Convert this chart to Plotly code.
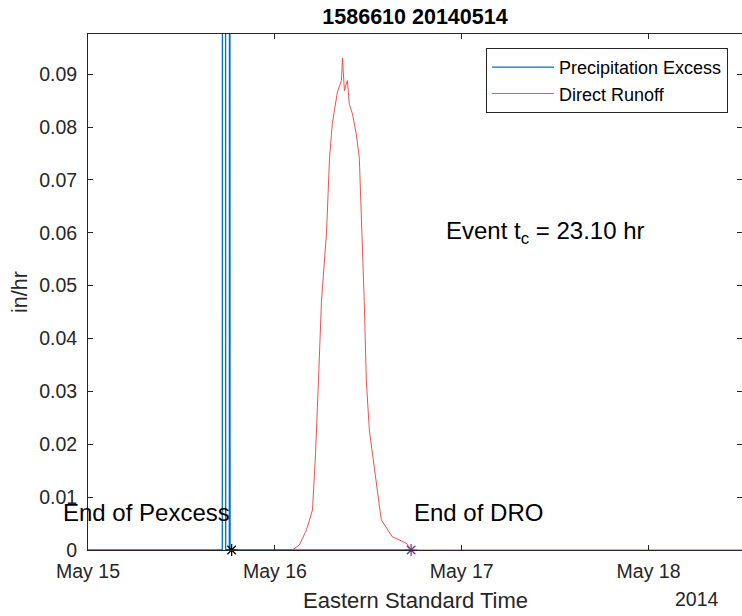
import plotly.graph_objects as go

# ---------------- data ----------------
title_text = "1586610 20140514"

precip_time = ["2014-05-15 00:00", "2014-05-15 17:15", "2014-05-15 17:18", "2014-05-15 17:38",
               "2014-05-15 17:41", "2014-05-15 18:09", "2014-05-15 18:12", "2014-05-15 18:15",
               "2014-05-15 18:27", "2014-05-16 17:30"]
precip_val = [0, 0, 0.40, 0.40, 0, 0, 0.30, 0, 0, 0]

runoff_time = ["2014-05-15 18:27", "2014-05-16 02:16", "2014-05-16 03:10", "2014-05-16 04:04",
               "2014-05-16 04:50", "2014-05-16 05:13", "2014-05-16 05:36", "2014-05-16 05:59",
               "2014-05-16 06:38", "2014-05-16 07:01", "2014-05-16 07:23", "2014-05-16 07:39",
               "2014-05-16 08:02", "2014-05-16 08:33", "2014-05-16 08:41", "2014-05-16 08:56",
               "2014-05-16 09:19", "2014-05-16 09:34", "2014-05-16 09:58", "2014-05-16 10:28",
               "2014-05-16 10:51", "2014-05-16 11:29", "2014-05-16 11:45", "2014-05-16 12:08",
               "2014-05-16 13:02", "2014-05-16 13:40", "2014-05-16 15:05", "2014-05-16 16:53",
               "2014-05-16 17:30", "2014-05-18 12:00"]
runoff_val = [0, 0, 0.001, 0.0038, 0.0076, 0.018, 0.032, 0.047, 0.060, 0.0740, 0.0807, 0.083,
              0.0866, 0.0888, 0.0930, 0.0869, 0.0888, 0.0843, 0.0825, 0.0786, 0.0741, 0.047,
              0.032, 0.0227, 0.0132, 0.0057, 0.0025, 0.0013, 0, 0]

pexcess_end_time = "2014-05-15 18:27"
dro_end_time = "2014-05-16 17:30"
event_tc = 23.10

x_range = ["2014-05-15 00:00", "2014-05-18 12:00"]
x_ticks = ["2014-05-15", "2014-05-16", "2014-05-17", "2014-05-18"]
x_ticktext = ["May 15", "May 16", "May 17", "May 18"]
y_ticks = [0, 0.01, 0.02, 0.03, 0.04, 0.05, 0.06, 0.07, 0.08, 0.09]
y_ticktext = ["0", "0.01", "0.02", "0.03", "0.04", "0.05", "0.06", "0.07", "0.08", "0.09"]
y_range = [0, 0.0976]

# ---------------- figure ----------------
FONT = "Liberation Sans, Arial, Helvetica, sans-serif"
DARK = "#262626"

fig = go.Figure()
fig.add_trace(go.Scatter(x=runoff_time, y=runoff_val, mode="lines", name="Direct Runoff",
                         line=dict(color="#E8413C", width=0.9), legendrank=2))
fig.add_trace(go.Scatter(x=precip_time, y=precip_val, mode="lines", name="Precipitation Excess",
                         line=dict(color="#0072BD", width=1.3), legendrank=1))
fig.add_trace(go.Scatter(x=[pexcess_end_time], y=[0], mode="markers", showlegend=False,
                         marker=dict(symbol="asterisk-open", size=10, color="black",
                                     line=dict(color="black", width=1.2)),
                         cliponaxis=False))
fig.add_trace(go.Scatter(x=[dro_end_time], y=[0], mode="markers", showlegend=False,
                         marker=dict(symbol="asterisk-open", size=10, color="#7E2F8E",
                                     line=dict(color="#7E2F8E", width=1.2)),
                         cliponaxis=False))

fig.add_annotation(x=pexcess_end_time, y=0.0070, xref="x", yref="y", text="End of Pexcess",
                   showarrow=False, xanchor="right", yanchor="middle", xshift=0,
                   font=dict(family=FONT, size=24, color="black"))
fig.add_annotation(x=dro_end_time, y=0.0070, xref="x", yref="y", text="End of DRO",
                   showarrow=False, xanchor="left", yanchor="middle", xshift=1,
                   font=dict(family=FONT, size=24, color="black"))
fig.add_annotation(x="2014-05-16 21:45", y=0.0600, xref="x", yref="y",
                   text="Event t<sub>c</sub> = %.2f hr" % event_tc,
                   showarrow=False, xanchor="left", yanchor="middle",
                   font=dict(family=FONT, size=24, color="black"))
fig.add_annotation(x=0.5, y=-0.097, xref="paper", yref="paper", text="Eastern Standard Time",
                   showarrow=False, xanchor="center", yanchor="middle",
                   font=dict(family=FONT, size=22, color=DARK))
fig.add_annotation(x=0.968, y=-0.095, xref="paper", yref="paper", text="2014",
                   showarrow=False, xanchor="right", yanchor="middle",
                   font=dict(family=FONT, size=19.5, color=DARK))
fig.add_annotation(x=-0.104, y=0.5, xref="paper", yref="paper", text="in/hr", textangle=-90,
                   showarrow=False, xanchor="center", yanchor="middle",
                   font=dict(family=FONT, size=21.5, color=DARK))

fig.update_layout(
    width=742, height=616, autosize=False,
    margin=dict(l=88, r=0, t=34, b=66, autoexpand=False),
    paper_bgcolor="white", plot_bgcolor="white",
    title=dict(text="<b>%s</b>" % title_text, x=0.5, xref="paper", xanchor="center",
               y=1 - 16 / 616, yref="container", yanchor="middle",
               font=dict(family=FONT, size=21.5, color="black")),
    font=dict(family=FONT, size=19.5, color=DARK),
    showlegend=True,
    legend=dict(x=0.6086, y=0.973, xanchor="left", yanchor="top",
                bgcolor="white", bordercolor=DARK, borderwidth=1,
                font=dict(family=FONT, size=18, color="black"),
                tracegroupgap=0, itemwidth=62),
    xaxis=dict(range=x_range, type="date", tickvals=x_ticks, ticktext=x_ticktext,
               ticks="inside", ticklen=5, tickcolor=DARK, showline=True, linecolor=DARK,
               linewidth=1, mirror="ticks", showgrid=False, zeroline=False,
               ticklabelstandoff=4, automargin=False),
    yaxis=dict(range=y_range, tickvals=y_ticks, ticktext=y_ticktext,
               ticks="inside", ticklen=5, tickcolor=DARK, showline=True, linecolor=DARK,
               linewidth=1, mirror="ticks", showgrid=False, zeroline=False,
               ticklabelstandoff=6, automargin=False),
)

fig.write_html(
    "out.html",
    config={"responsive": False, "displayModeBar": False},
    post_script="document.body.style.margin='0px'; document.body.style.overflow='hidden';",
)
